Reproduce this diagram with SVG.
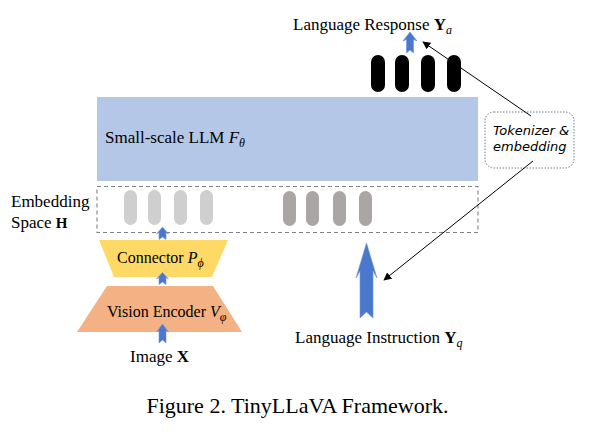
<svg xmlns="http://www.w3.org/2000/svg" width="598" height="443" viewBox="0 0 598 443">
<style>
.t{font-family:"Liberation Serif","Times New Roman",serif;font-size:17px;fill:#000}
.m{font-size:16px}
.cap{font-size:22px}
.b{font-weight:bold;font-style:normal}
.i{font-style:italic}
.sub{font-size:12px}
.tok{font-family:"DejaVu Sans","Comic Sans MS",sans-serif;font-style:italic;font-size:13px;fill:#000}
.pl{fill:#d0cfcf}
.pd{fill:#a9a6a5}
.pk{fill:#000}
.ba{fill:#4a78cc;stroke:#6f95d8;stroke-width:0.6}
.ln{stroke:#000;stroke-width:1;fill:none;marker-end:url(#ah)}
</style>
<defs>
<marker id="ah" viewBox="0 0 10 10" refX="9" refY="5" markerWidth="8" markerHeight="8" markerUnits="userSpaceOnUse" orient="auto">
<path d="M0,0 L10,5 L0,10 z" fill="#000"/>
</marker>
</defs>
<rect width="598" height="443" fill="#fff"/>

<g id="llm">
<rect x="97" y="97" width="381" height="84" fill="#b4c7e7"/>
<text class="t" x="105" y="143">Small-scale LLM <tspan class="i">F</tspan><tspan class="i sub" dy="4">θ</tspan></text>
</g>

<g id="embedding-space">
<rect x="97" y="186.5" width="381" height="46" fill="none" stroke="#808080" stroke-width="1.1" stroke-dasharray="4,3"/>
<rect class="pl" x="124" y="190" width="13" height="35" rx="6.5"/>
<rect class="pl" x="148" y="190" width="13" height="35" rx="6.5"/>
<rect class="pl" x="174" y="190" width="13" height="35" rx="6.5"/>
<rect class="pl" x="200" y="190" width="13" height="35" rx="6.5"/>
<rect class="pd" x="283" y="191" width="13" height="35" rx="6.5"/>
<rect class="pd" x="306" y="191" width="13" height="35" rx="6.5"/>
<rect class="pd" x="333" y="191" width="13" height="35" rx="6.5"/>
<rect class="pd" x="359" y="191" width="13" height="35" rx="6.5"/>
<text class="t" x="11" y="207">Embedding</text>
<text class="t" x="11" y="228">Space <tspan class="b" style="font-size:15px">H</tspan></text>
</g>

<g id="response-tokens">
<rect class="pk" x="371" y="55" width="14" height="37" rx="7"/>
<rect class="pk" x="395" y="55" width="14" height="37" rx="7"/>
<rect class="pk" x="421" y="55" width="14" height="37" rx="7"/>
<rect class="pk" x="447" y="55" width="14" height="37" rx="7"/>
</g>

<g id="response-label">
<text class="t" x="293" y="30">Language Response <tspan class="b">Y</tspan><tspan class="i sub" dy="4">a</tspan></text>
</g>

<g id="connector">
<polygon points="99,240 228,240 212,277 114,277" fill="#ffd966"/>
<text class="t m" x="117" y="263">Connector <tspan class="i">P</tspan><tspan class="i sub" dy="4">ϕ</tspan></text>
</g>

<g id="vision-encoder">
<polygon points="107,286 213,286 242,332 77,332" fill="#f4b183"/>
<text class="t m" x="107" y="317">Vision Encoder <tspan class="i">V</tspan><tspan class="i sub" dy="4">φ</tspan></text>
</g>

<g id="image">
<text class="t" x="130" y="362">Image <tspan class="b">X</tspan></text>
</g>

<g id="instruction">
<text class="t" x="295" y="343">Language Instruction <tspan class="b">Y</tspan><tspan class="i sub" dy="4">q</tspan></text>
</g>

<g id="tokenizer">
<rect x="485" y="112" width="89" height="56" rx="9" fill="#fff" stroke="#6c7a8e" stroke-width="1" stroke-dasharray="1.5,1.5"/>
<text class="tok" x="493" y="135">Tokenizer &amp;</text>
<text class="tok" x="493" y="151">embedding</text>
</g>

<g id="connectors">
<polygon class="ba" points="162.5,227 168.5,234 166,232.5 166,239.5 162.5,237 159,239.5 159,232.5 156.5,234"/>
<polygon class="ba" points="162.5,272.5 168.5,279 166,277.5 166,284.5 162.5,282 159,284.5 159,277.5 156.5,279"/>
<polygon class="ba" points="162.5,324 168.5,332 166,330.5 166,343 162.5,340 159,343 159,330.5 156.5,332"/>
<polygon class="ba" points="410,32 417,41 413.5,39.5 413.5,53 410,50 406.5,53 406.5,39.5 403,41"/>
<polygon class="ba" points="366.5,243 377,278 373,271 373,318 366.5,312 360,318 360,271 356,278"/>
<line class="ln" x1="531" y1="116" x2="423" y2="42"/>
<line class="ln" x1="533" y1="161" x2="384" y2="280"/>
</g>

<g id="caption">
<text class="t cap" x="297.5" y="413" text-anchor="middle">Figure 2. TinyLLaVA Framework.</text>
</g>
</svg>
